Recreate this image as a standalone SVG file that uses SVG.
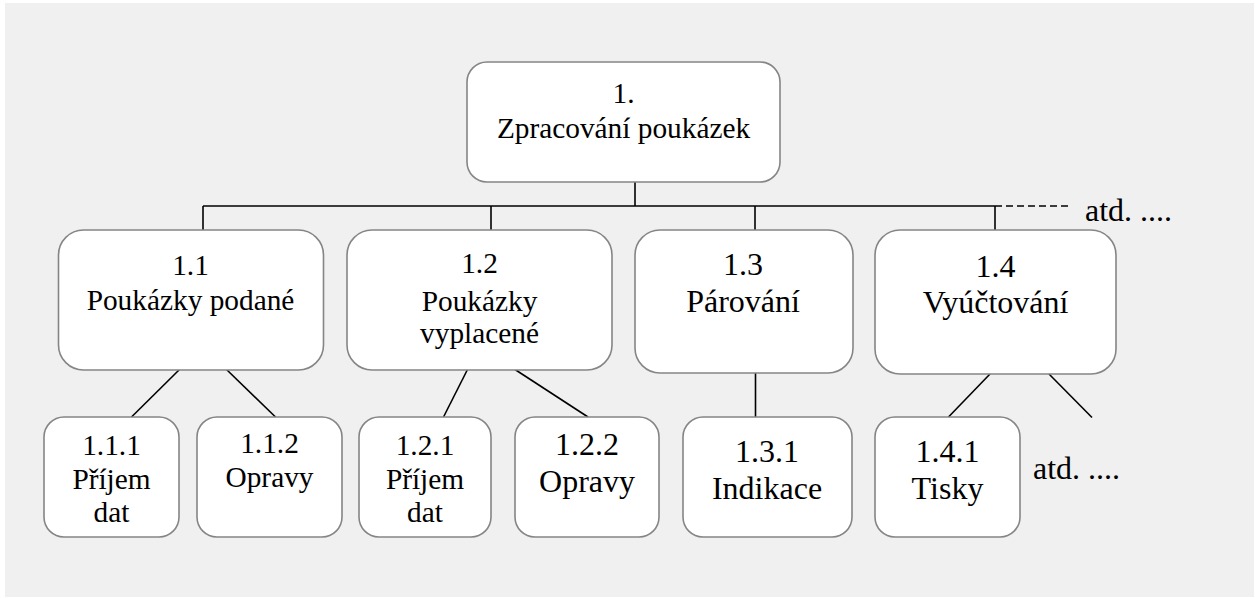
<svg xmlns="http://www.w3.org/2000/svg" width="1255" height="598" viewBox="0 0 1255 598">
  <style>
    .box { fill: #ffffff; stroke: #858585; stroke-width: 1.6; }
    .link { stroke: #000000; stroke-width: 1.6; fill: none; }
    .dash { stroke-dasharray: 7 4; }
    .t { font-family: "Liberation Serif", "Times New Roman", serif; fill: #000000; text-anchor: middle; }
    .note { text-anchor: start; }
    .s22 { font-size: 29.33px; }
    .s24 { font-size: 32px; }
  </style>

  <!-- panel -->
  <rect x="5" y="3" width="1249" height="594" fill="#f0f0f0"/>

  <!-- connectors -->
  <g id="connectors">
    <line class="link" x1="635" y1="182" x2="635" y2="206"/>
    <line class="link" x1="203" y1="206" x2="995" y2="206"/>
    <line class="link dash" x1="995" y1="206" x2="1068" y2="206"/>
    <line class="link" x1="203" y1="206" x2="203" y2="230"/>
    <line class="link" x1="491" y1="206" x2="491" y2="230"/>
    <line class="link" x1="755" y1="206" x2="755" y2="230"/>
    <line class="link" x1="995" y1="206" x2="995" y2="230"/>
    <line class="link" x1="179.5" y1="369.5" x2="131.5" y2="417"/>
    <line class="link" x1="226.5" y1="369.5" x2="275.5" y2="417"/>
    <line class="link" x1="467.5" y1="369.5" x2="443.5" y2="417"/>
    <line class="link" x1="515" y1="369.5" x2="588" y2="417"/>
    <line class="link" x1="755.5" y1="373" x2="755.5" y2="417"/>
    <line class="link" x1="990" y1="374" x2="948.5" y2="417"/>
    <line class="link" x1="1049" y1="374" x2="1092" y2="417.5"/>
  </g>

  <!-- root -->
  <g id="n1">
    <rect class="box" x="467" y="62" width="313" height="120" rx="20"/>
    <text class="t s22" x="623.5" y="103">1.</text>
    <text class="t s22" x="623.5" y="138">Zpracování poukázek</text>
  </g>

  <!-- level 1 -->
  <g id="n1-1">
    <rect class="box" x="58.5" y="230" width="265" height="140" rx="25"/>
    <text class="t s22" x="190.5" y="275">1.1</text>
    <text class="t s22" x="190.5" y="310">Poukázky podané</text>
  </g>
  <g id="n1-2">
    <rect class="box" x="347" y="230" width="265" height="140" rx="25"/>
    <text class="t s22" x="479.5" y="273">1.2</text>
    <text class="t s22" x="479.5" y="311">Poukázky</text>
    <text class="t s22" x="479.5" y="343">vyplacené</text>
  </g>
  <g id="n1-3">
    <rect class="box" x="635" y="230" width="218" height="143" rx="25"/>
    <text class="t s24" x="743" y="275">1.3</text>
    <text class="t s24" x="743" y="312">Párování</text>
  </g>
  <g id="n1-4">
    <rect class="box" x="875" y="230" width="241" height="144" rx="25"/>
    <text class="t s24" x="995.5" y="277">1.4</text>
    <text class="t s24" x="995.5" y="313">Vyúčtování</text>
  </g>

  <!-- level 2 -->
  <g id="n1-1-1">
    <rect class="box" x="44" y="417" width="135" height="120" rx="20"/>
    <text class="t s22" x="111.5" y="455">1.1.1</text>
    <text class="t s22" x="111.5" y="489">Příjem</text>
    <text class="t s22" x="111.5" y="522">dat</text>
  </g>
  <g id="n1-1-2">
    <rect class="box" x="197" y="417" width="145" height="120" rx="20"/>
    <text class="t s22" x="269.5" y="453">1.1.2</text>
    <text class="t s22" x="269.5" y="487">Opravy</text>
  </g>
  <g id="n1-2-1">
    <rect class="box" x="359" y="417" width="132" height="120" rx="20"/>
    <text class="t s22" x="425" y="455">1.2.1</text>
    <text class="t s22" x="425" y="489">Příjem</text>
    <text class="t s22" x="425" y="522">dat</text>
  </g>
  <g id="n1-2-2">
    <rect class="box" x="515" y="417" width="144" height="120" rx="20"/>
    <text class="t s24" x="587" y="455">1.2.2</text>
    <text class="t s24" x="587" y="492">Opravy</text>
  </g>
  <g id="n1-3-1">
    <rect class="box" x="683" y="417" width="169" height="120" rx="20"/>
    <text class="t s24" x="767" y="462">1.3.1</text>
    <text class="t s24" x="767" y="499">Indikace</text>
  </g>
  <g id="n1-4-1">
    <rect class="box" x="875" y="417" width="145" height="120" rx="20"/>
    <text class="t s24" x="947.5" y="462">1.4.1</text>
    <text class="t s24" x="947.5" y="499">Tisky</text>
  </g>

  <!-- continuation notes -->
  <text class="t note s24" x="1085" y="221">atd. ....</text>
  <text class="t note s24" x="1033" y="479">atd. ....</text>
</svg>
